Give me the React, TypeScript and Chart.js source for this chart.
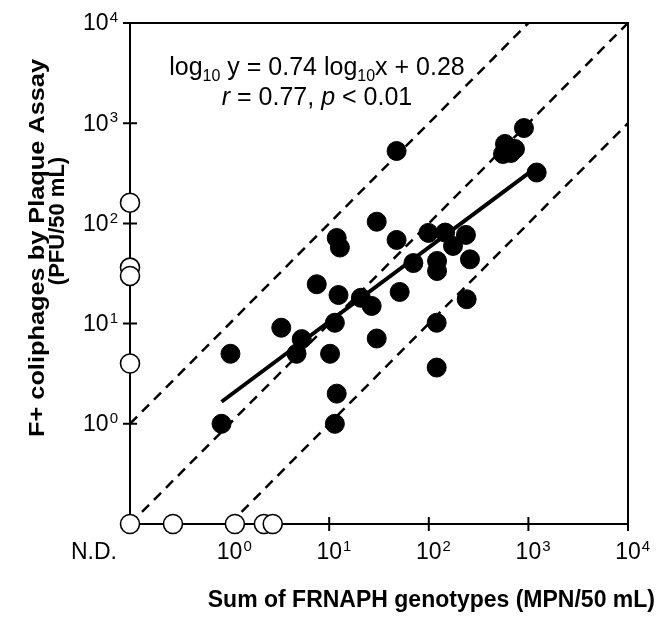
import React, { useEffect, useRef } from "react";
import { Chart, registerables } from "chart.js";

Chart.register(...registerables);

// Detected samples (MPN/50 mL on x, PFU/50 mL on y)
const filledX = [0.83, 1.02, 3.3, 4.7, 5.3, 7.5, 10.2, 11.4, 11.9, 11.4, 11.9, 12.8, 12.4, 20.8, 26.7, 30, 30, 47.5, 51, 47.5, 70, 99, 121, 121, 146, 175, 236, 259, 240, 120, 120, 582, 733, 556, 668, 902, 1211];
const filledY = [1.0, 5.0, 9.1, 5.0, 7.0, 24.7, 5.0, 10.2, 2.0, 1.0, 71.6, 57.4, 19.3, 18.1, 15.0, 7.1, 104, 68.4, 20.7, 528, 40.2, 80.4, 42.2, 33.5, 81, 59.6, 76.8, 43.8, 17.5, 10.2, 3.64, 621, 553, 493, 505, 895, 322];

// Samples with at least one non-detect (null = N.D.)
const openX = [null, null, null, null, null, 0.27, 1.13, 2.21, 2.71];
const openY = [161, 36.2, 29.9, 4.0, null, null, null, null, null];

// Regression: log10 y = slope * log10 x + intercept
const regSlope = 0.74;
const regIntercept = 0.28;
const regRange = [0.83, 1211];

// Reference lines y = k * x
const refRatios = [10, 1, 0.1];

// Axis exponents (decades) and N.D. position
const exponents = [0, 1, 2, 3, 4];
const ndLabel = "N.D.";
const axisMin = -1;
const axisMax = 4;

const xTitle = "Sum of FRNAPH genotypes (MPN/50 mL)";
const yTitle1 = "F+ coliphages by Plaque Assay";
const yTitle2 = "(PFU/50 mL)";

const FONT = '"Liberation Sans", Arial, Helvetica, sans-serif';

const lg = (v: number | null) => (v === null ? axisMin : Math.log10(v));

function drawPieces(ctx: CanvasRenderingContext2D, pieces: { t: string; f: string; dy: number }[], cx: number, y: number) {
  let total = 0;
  for (const p of pieces) {
    ctx.font = p.f;
    total += ctx.measureText(p.t).width;
  }
  let x = cx - total / 2;
  ctx.textAlign = "left";
  ctx.textBaseline = "alphabetic";
  for (const p of pieces) {
    ctx.font = p.f;
    ctx.fillText(p.t, x, y + p.dy);
    x += ctx.measureText(p.t).width;
  }
}

function drawRotated(ctx: CanvasRenderingContext2D, text: string, bx: number, cy: number, len: number | null) {
  ctx.save();
  ctx.translate(bx, cy);
  ctx.rotate(-Math.PI / 2);
  const w = ctx.measureText(text).width;
  if (len) ctx.scale(len / w, 1);
  ctx.textAlign = "center";
  ctx.textBaseline = "alphabetic";
  ctx.fillText(text, 0, 0);
  ctx.restore();
}

const decor = {
  id: "decor",
  beforeDatasetsDraw(chart: any) {
    const { ctx, chartArea } = chart;
    const { left, right, top, bottom } = chartArea;
    const xs = chart.scales.x;
    const ys = chart.scales.y;
    ctx.save();
    ctx.strokeStyle = "#000";
    ctx.lineWidth = 2;
    ctx.strokeRect(left, top, right - left, bottom - top);
    ctx.beginPath();
    for (const e of exponents) {
      const py = ys.getPixelForValue(e);
      ctx.moveTo(left - 7, py);
      ctx.lineTo(left + 7, py);
      const px = xs.getPixelForValue(e);
      ctx.moveTo(px, bottom - 7);
      ctx.lineTo(px, bottom + 7);
    }
    ctx.stroke();
    ctx.restore();
  },
  afterDraw(chart: any) {
    const { ctx, chartArea } = chart;
    const { left, bottom } = chartArea;
    const xs = chart.scales.x;
    const ys = chart.scales.y;
    ctx.save();
    ctx.fillStyle = "#000";
    const big = `23px ${FONT}`;
    const sup = `15px ${FONT}`;
    // y tick labels
    for (const e of exponents) {
      const py = ys.getPixelForValue(e);
      ctx.font = big;
      const w10 = ctx.measureText("10").width;
      ctx.font = sup;
      const we = ctx.measureText(String(e)).width;
      const x0 = left - 13 - w10 - we;
      ctx.textAlign = "left";
      ctx.textBaseline = "middle";
      ctx.font = big;
      ctx.fillText("10", x0, py + 1);
      ctx.font = sup;
      ctx.fillText(String(e), x0 + w10 + 1, py - 5);
    }
    // x tick labels
    const ly = bottom + 29;
    for (const e of exponents) {
      const px = xs.getPixelForValue(e);
      ctx.font = big;
      ctx.textAlign = "center";
      ctx.textBaseline = "middle";
      ctx.fillText("10", px, ly);
      const w10 = ctx.measureText("10").width;
      ctx.font = sup;
      ctx.textAlign = "left";
      ctx.fillText(String(e), px + w10 / 2 + 1, ly - 6);
    }
    ctx.font = big;
    ctx.textAlign = "center";
    ctx.textBaseline = "middle";
    ctx.fillText(ndLabel, xs.getPixelForValue(axisMin) - 36, ly);

    // axis titles
    ctx.font = `bold 23px ${FONT}`;
    ctx.textAlign = "right";
    ctx.textBaseline = "alphabetic";
    ctx.fillText(xTitle, 655, 607);

    ctx.font = `bold 22px ${FONT}`;
    drawRotated(ctx, yTitle1, 44, 248, 378);
    drawRotated(ctx, yTitle2, 64, 221, null);

    // equation
    const n = `25px ${FONT}`;
    const s = `16px ${FONT}`;
    const it = `italic 25px ${FONT}`;
    drawPieces(ctx, [
      { t: "log", f: n, dy: 0 },
      { t: "10", f: s, dy: 6 },
      { t: " y = " + regSlope.toFixed(2) + " log", f: n, dy: 0 },
      { t: "10", f: s, dy: 6 },
      { t: "x + " + regIntercept.toFixed(2), f: n, dy: 0 },
    ], 317, 75);
    drawPieces(ctx, [
      { t: "r", f: it, dy: 0 },
      { t: " = 0.77, ", f: n, dy: 0 },
      { t: "p", f: it, dy: 0 },
      { t: " < 0.01", f: n, dy: 0 },
    ], 317, 105);
    ctx.restore();
  },
};

export default function App() {
  const ref = useRef<HTMLCanvasElement | null>(null);
  useEffect(() => {
    if (!ref.current) return;
    const filled = filledX.map((x, i) => ({ x: lg(x), y: lg(filledY[i]) }));
    const open = openX.map((x, i) => ({ x: lg(x), y: lg(openY[i]) }));
    const reg = regRange.map((x) => ({ x: Math.log10(x), y: regSlope * Math.log10(x) + regIntercept }));
    const refSets = refRatios.map((k) => {
      const off = Math.log10(k);
      const x0 = Math.max(axisMin, axisMin - off);
      const x1 = Math.min(axisMax, axisMax - off);
      return {
        data: [{ x: x0, y: x0 + off }, { x: x1, y: x1 + off }],
        showLine: true,
        borderColor: "#000",
        borderWidth: 2.5,
        borderDash: [10, 7],
        pointRadius: 0,
        order: 3,
      };
    });
    const chart = new Chart(ref.current, {
      type: "scatter",
      data: {
        datasets: [
          {
            data: filled,
            backgroundColor: "#000",
            borderColor: "#000",
            borderWidth: 1,
            pointRadius: 9.5,
            clip: false,
            order: 0,
          },
          {
            data: open,
            backgroundColor: "#fff",
            borderColor: "#000",
            borderWidth: 1.6,
            pointRadius: 9.5,
            clip: false,
            order: 0,
          },
          {
            data: reg,
            showLine: true,
            borderColor: "#000",
            borderWidth: 4,
            pointRadius: 0,
            order: 2,
          },
          ...refSets,
        ] as any,
      },
      options: {
        responsive: false,
        animation: false,
        events: [],
        layout: { padding: { top: 23, right: 31, left: 0, bottom: 0 } },
        plugins: { legend: { display: false }, tooltip: { enabled: false } },
        scales: {
          x: {
            type: "linear",
            min: axisMin,
            max: axisMax,
            ticks: { display: false },
            grid: { display: false },
            border: { display: false },
            afterFit: (s: any) => { s.height = 96; },
          },
          y: {
            type: "linear",
            min: axisMin,
            max: axisMax,
            ticks: { display: false },
            grid: { display: false },
            border: { display: false },
            afterFit: (s: any) => { s.width = 130; },
          },
        },
      } as any,
      plugins: [decor],
    });
    return () => chart.destroy();
  }, []);
  return (
    <div style={{ position: "absolute", left: 0, top: 0, width: 659, height: 620, background: "#fff" }}>
      <canvas ref={ref} width={659} height={620} />
    </div>
  );
}
